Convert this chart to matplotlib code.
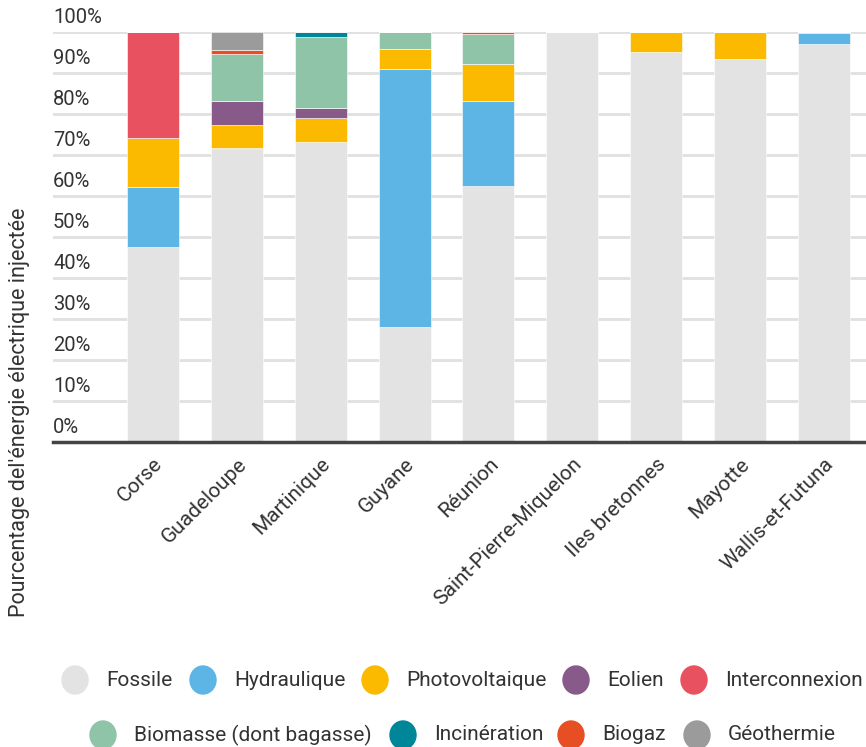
import numpy as np
import matplotlib.pyplot as plt
from matplotlib.patches import Ellipse

plt.rcParams['font.family'] = ['Roboto', 'DejaVu Sans']

territoires = ['Corse', 'Guadeloupe', 'Martinique', 'Guyane', 'Réunion',
               'Saint-Pierre-Miquelon', 'Iles bretonnes', 'Mayotte', 'Wallis-et-Futuna']

# part de chaque filière (%), empilée dans cet ordre
fossile = [47.6, 71.4, 73.2, 28.0, 62.3, 100.0, 95.0, 93.3, 97.0]
hydraulique = [14.6, 0.3, 0.0, 62.9, 20.7, 0.0, 0.0, 0.0, 2.6]
photovoltaique = [11.9, 5.6, 5.8, 4.9, 9.0, 0.0, 5.0, 6.7, 0.4]
eolien = [0.0, 5.7, 2.4, 0.0, 0.0, 0.0, 0.0, 0.0, 0.0]
interconnexion = [25.9, 0.0, 0.0, 0.0, 0.0, 0.0, 0.0, 0.0, 0.0]
biomasse = [0.0, 11.6, 17.2, 4.2, 7.4, 0.0, 0.0, 0.0, 0.0]
incineration = [0.0, 0.0, 1.4, 0.0, 0.0, 0.0, 0.0, 0.0, 0.0]
biogaz = [0.0, 0.8, 0.0, 0.0, 0.6, 0.0, 0.0, 0.0, 0.0]
geothermie = [0.0, 4.6, 0.0, 0.0, 0.0, 0.0, 0.0, 0.0, 0.0]

filieres = ['Fossile', 'Hydraulique', 'Photovoltaique', 'Eolien', 'Interconnexion',
            'Biomasse (dont bagasse)', 'Incinération', 'Biogaz', 'Géothermie']
series = [fossile, hydraulique, photovoltaique, eolien, interconnexion,
          biomasse, incineration, biogaz, geothermie]
couleurs = ['#e3e3e3', '#5db5e5', '#fbb900', '#875a8a', '#e8515f',
            '#8fc4a9', '#008699', '#e84e24', '#9b9b9b']

yticks = np.arange(0, 101, 10)
texte = '#333333'

fig = plt.figure(figsize=(8.66, 7.47), dpi=100)
ax = fig.add_axes([53 / 866, 1 - 442 / 747, 1 - 53 / 866, (442 - 31.5) / 747])

x = np.arange(len(territoires))
bas = np.zeros(len(territoires))
for vals, c in zip(series, couleurs):
    vals = np.array(vals)
    ax.bar(x, vals, bottom=bas, width=0.62, color=c, edgecolor='white',
           linewidth=0.4, zorder=2)
    bas += vals

ax.set_xlim(-100 / 84, 8 + 42 / 84)
ax.set_ylim(0, 100)

# grille horizontale, étiquettes posées au-dessus des lignes
for v in yticks[1:]:
    ax.axhline(v, color='#e0e0e0', lw=2, zorder=1)
ax.axhline(0, color='#444444', lw=2.5, zorder=3, clip_on=False)
for v in yticks:
    ax.text(0, v + 1.2, f'{v}%', transform=ax.get_yaxis_transform(),
            ha='left', va='bottom', fontsize=14.5, color=texte)

for s in ax.spines.values():
    s.set_visible(False)
ax.set_yticks([])
ax.set_xticks(x)
ax.set_xticklabels(territoires, rotation=45, ha='right', va='top',
                   rotation_mode='anchor', fontsize=15, color=texte)
ax.tick_params(axis='x', length=0, pad=9)

fig.text(20 / 866, 1 - 412 / 747, "Pourcentage del'énergie électrique injectée",
         rotation=90, ha='center', va='center', fontsize=15.5, color=texte)

# légende sur deux lignes
leg = fig.add_axes([0, 0, 1, 1], facecolor='none')
leg.set_xlim(0, 866)
leg.set_ylim(747, 0)
leg.axis('off')
positions = [(75, 680), (203, 680), (375, 680), (576, 680), (694, 680),
             (103, 735), (403, 735), (571, 735), (697, 735)]
for (px, py), nom, c in zip(positions, filieres, couleurs):
    leg.add_patch(Ellipse((px, py), 26, 28, color=c))
    leg.text(px + 31, py, nom, ha='left', va='center', fontsize=15,
             color=texte)

fig.savefig('out.png', dpi=100)
